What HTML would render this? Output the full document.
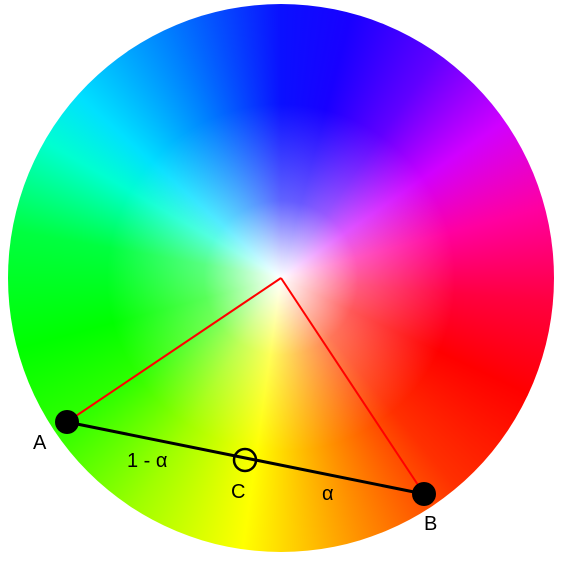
<!DOCTYPE html>
<html><head><meta charset="utf-8"><style>
html,body{margin:0;padding:0;background:#fff;}
#wrap{position:relative;width:561px;height:564px;overflow:hidden;}
#wheel{position:absolute;left:8px;top:4px;width:546px;height:548px;border-radius:50%;
background:radial-gradient(circle at 50% 50%, #fff 0%, rgba(255,255,255,0.85) 5%, rgba(255,255,255,0.35) 20%, rgba(255,255,255,0) 45%),
conic-gradient(from 0deg, #0a10ff 0deg, #1800ff 15deg, #6000ff 35deg, #d000ff 55deg, #ff00a0 75deg, #ff0040 95deg, #ff0000 115deg, #ff3000 140deg, #ff9000 163deg, #ffff00 188deg, #a0ff00 212deg, #30ff00 235deg, #00ff00 255deg, #00ff40 280deg, #00ffd0 300deg, #00e0ff 312deg, #0080ff 335deg, #0a10ff 360deg);}
svg{position:absolute;left:0;top:0;}
text{font-family:"Liberation Sans",sans-serif;font-size:20px;fill:#000;}
</style></head><body>
<div id="wrap">
<div id="wheel"></div>
<svg width="561" height="564">
<g id="g"></g>
<text x="33" y="449">A</text>
<text x="424" y="530">B</text>
<text x="231" y="498">C</text>
<text x="127" y="467">1 - α</text>
<text x="322" y="500">α</text>
</svg>
</div>
<script>
const pointNames=['A','B','C','O'];
const pointX=[67,424,245,281];
const pointY=[422,494,460,278];
const ns='http://www.w3.org/2000/svg';
const g=document.getElementById('g');
function mk(t,a){const e=document.createElementNS(ns,t);for(const k in a)e.setAttribute(k,a[k]);g.appendChild(e);return e;}
let l1=mk('line',{x1:pointX[0],y1:pointY[0],x2:pointX[3],y2:pointY[3],stroke:'#ff0000','stroke-width':2});


let l2=mk('line',{x1:pointX[3],y1:pointY[3],x2:pointX[1],y2:pointY[1],stroke:'#ff0000','stroke-width':2});


let l3=mk('line',{x1:pointX[0],y1:pointY[0],x2:pointX[1],y2:pointY[1],stroke:'#000','stroke-width':3});


let pa=mk('circle',{cx:pointX[0],cy:pointY[0],r:12,fill:'#000'});


let pb=mk('circle',{cx:pointX[1],cy:pointY[1],r:12,fill:'#000'});


let pc=mk('circle',{cx:pointX[2],cy:pointY[2],r:11,fill:'none',stroke:'#000','stroke-width':2.5});


</script>
</body></html>
